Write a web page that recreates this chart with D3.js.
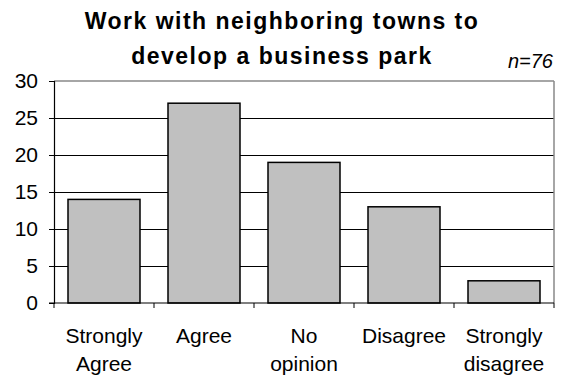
<!DOCTYPE html>
<html><head><meta charset="utf-8">
<script src="https://cdn.jsdelivr.net/npm/d3@7"></script>
<style>body{margin:0;background:#fff}svg{display:block}</style>
</head><body><svg id="c" width="563" height="379"></svg>
<script>
const categories = [["Strongly","Agree"],["Agree"],["No","opinion"],["Disagree"],["Strongly","disagree"]];
const values = [14, 27, 19, 13, 3];
const yTicks = [0, 5, 10, 15, 20, 25, 30];
const titleLines = ["Work with neighboring towns to", "develop a business park"];
const note = "n=76";

const svg = d3.select("#c");
const font = "'Liberation Sans', Arial, sans-serif";
const L = 54, R = 554, T = 81, B = 303;
const x = d3.scaleBand().domain(d3.range(values.length)).range([L, R]).paddingInner(0.28).paddingOuter(0.14);
const y = d3.scaleLinear().domain([0, 30]).range([B, T]);

// gridlines
svg.append("g").selectAll("line").data(yTicks.filter(t => t > 0 && t < 30)).join("line")
  .attr("x1", L).attr("x2", R).attr("y1", d => Math.round(y(d)) + 0.5).attr("y2", d => Math.round(y(d)) + 0.5)
  .attr("stroke", "#000").attr("stroke-width", 1);
// top & right border (gray)
svg.append("line").attr("x1", L).attr("x2", R).attr("y1", y(30)).attr("y2", y(30))
  .attr("stroke", "#888").attr("stroke-width", 1.5);
svg.append("line").attr("x1", R).attr("x2", R).attr("y1", y(30)).attr("y2", B)
  .attr("stroke", "#888").attr("stroke-width", 1.5);

// bars
svg.append("g").selectAll("rect").data(values).join("rect")
  .attr("x", (d, i) => x(i)).attr("width", x.bandwidth())
  .attr("y", d => y(d)).attr("height", d => B - y(d))
  .attr("fill", "#c0c0c0").attr("stroke", "#000").attr("stroke-width", 1.5);

// y axis
const ya = svg.append("g").attr("transform", `translate(${L},0)`)
  .call(d3.axisLeft(y).tickValues(yTicks).tickSize(5).tickPadding(11));
ya.select(".domain").attr("stroke", "#000").attr("stroke-width", 1.2);
ya.selectAll(".tick line").attr("stroke", "#000");
ya.selectAll("text").attr("font-family", font).attr("font-size", 21).attr("fill", "#000");

// x axis
const bounds = d3.range(values.length + 1).map(i => L + i * (R - L) / values.length);
svg.append("line").attr("x1", L - 5).attr("x2", R).attr("y1", B).attr("y2", B).attr("stroke", "#000").attr("stroke-width", 1.2);
svg.append("g").selectAll("line").data(bounds).join("line")
  .attr("x1", d => d).attr("x2", d => d).attr("y1", B).attr("y2", B + 5).attr("stroke", "#000");

const xl = svg.append("g").selectAll("text").data(categories).join("text")
  .attr("font-family", font).attr("font-size", 21).attr("text-anchor", "middle")
  .attr("x", (d, i) => x(i) + x.bandwidth() / 2).attr("y", 343);
xl.selectAll("tspan").data(d => d).join("tspan")
  .attr("x", function () { return d3.select(this.parentNode).attr("x"); })
  .attr("dy", (d, i) => i === 0 ? 0 : 28).text(d => d);

// title
svg.append("g").selectAll("text").data(titleLines).join("text")
  .attr("x", 282).attr("y", (d, i) => 29 + i * 35)
  .attr("text-anchor", "middle").attr("font-family", font).attr("font-weight", "bold")
  .attr("font-size", 23).attr("letter-spacing", 1.5).text(d => d);
svg.append("text").attr("x", 553).attr("y", 68).attr("text-anchor", "end")
  .attr("font-family", font).attr("font-style", "italic").attr("font-size", 20).text(note);
</script></body></html>
